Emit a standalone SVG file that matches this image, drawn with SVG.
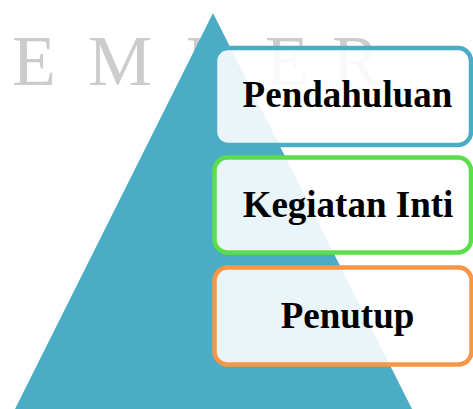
<svg xmlns="http://www.w3.org/2000/svg" width="473" height="409" viewBox="0 0 473 409">
<style>
.wm{font-family:"Liberation Serif","Times New Roman",serif;font-size:72px;fill:#cccccc}
.box{fill:#ffffff;fill-opacity:0.88;stroke-width:4.5}
.lbl{font-family:"Liberation Serif","Times New Roman",serif;font-size:37px;font-weight:bold;fill:#000000;text-anchor:middle}
</style>
<rect width="473" height="409" fill="#ffffff"/>
<g id="watermark">
<text class="wm" y="85"><tspan x="12">E</tspan><tspan x="88">M</tspan><tspan x="186">B</tspan><tspan x="265">E</tspan><tspan x="332">R</tspan></text>
</g>
<g id="pyramid">
<polygon points="213,13 412,409 15,409" fill="#4bacc6"/>
</g>
<g id="connectors"></g>
<g id="pendahuluan">
<rect class="box" x="215" y="48" width="256" height="97" rx="13" stroke="#4bacc6"/>
<text class="lbl" x="347.5" y="107">Pendahuluan</text>
</g>
<g id="kegiatan-inti">
<rect class="box" x="214.5" y="157.5" width="256.5" height="95" rx="13" stroke="#5ade4a"/>
<text class="lbl" x="348" y="217">Kegiatan Inti</text>
</g>
<g id="penutup">
<rect class="box" x="214.5" y="267.5" width="257" height="97" rx="13" stroke="#f79646"/>
<text class="lbl" x="347.5" y="328">Penutup</text>
</g>
</svg>
